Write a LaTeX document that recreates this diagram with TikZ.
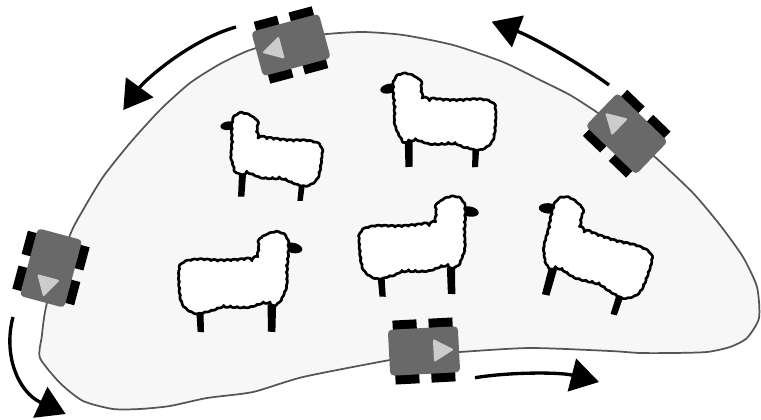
\documentclass[tikz,border=0pt]{standalone}
\usetikzlibrary{arrows.meta,decorations.pathmorphing}
\definecolor{bodygray}{HTML}{696969}
\definecolor{tricolor}{HTML}{CCCCCC}
\definecolor{fieldfill}{HTML}{F7F7F7}
\definecolor{fieldline}{HTML}{555555}
\newcommand{\sheepbody}[1]{%
  \begin{scope}[x=0.25pt,y=-0.25pt]
    \fill[black] (-113,72)--(-92,72)--(-97,140)--(-116,140)--cycle;
    \fill[black] (67,100)--(85,100)--(78,153)--(62,153)--cycle;
    \fill[black,rotate around={8:(-145,-73)}] (-145,-73) ellipse [x radius=24,y radius=13];
    \path[wool,#1] plot[smooth cycle,tension=0.55] coordinates {
      (-108,-106)(-68,-94)(-58,-48)(-28,-36)(30,-28)(90,-26)(124,-15)(132,15)
      (122,78)(92,103)(55,98)(20,85)(-40,81)(-80,68)(-112,68)(-132,30)(-132,-20)(-130,-85)};
  \end{scope}}
\tikzset{
  x=0.75pt,y=-0.75pt,
  wool/.style={draw=black,fill=white,line width=2pt,line join=round,decorate,
    decoration={bumps,segment length=10pt,amplitude=1pt}},
  motion/.style={draw=black,line width=2.5pt,-{Triangle[length=21pt,width=25pt]}},
  field/.style={draw=fieldline,fill=fieldfill,line width=1.3pt,line join=round},
  sheep/.pic={\sheepbody{}},
  sheepflip/.pic={\sheepbody{decoration={mirror}}},
  robot/.pic={
    \fill[black] (-30,-32) rectangle (-6,-20);
    \fill[black] (6,-32) rectangle (30,-20);
    \fill[black] (-30,20) rectangle (-6,32);
    \fill[black] (6,20) rectangle (30,32);
    \fill[bodygray,rounded corners=3pt] (-35,-23) rectangle (35,23);
    \fill[tricolor,draw=tricolor,line width=1.5pt,line join=round] (28,0)--(10.5,-10)--(10.5,10)--cycle;
  }
}
\begin{document}
\begin{tikzpicture}
\useasboundingbox (0,0) rectangle (761,420);
% field
\path[field] plot[smooth cycle,tension=0.4] coordinates {
 (460,352)(425,355)(390,360)(303,377)(253,392)(207,398)(170,406)(140,409)(113,409)(83,401)(60,383)(40,358)(41.7,337)(47,303)
 (70,235)(83,210)(103,177)(130,143)(160,110)(190,83)(220,64)(250,50)(291,39)(327,34)(363,32)(403,35)(453,45)(503,62)(540,80)(570,95)(598,113)
 (628,135)(655,157)(693,193)(720,225)(743,257)(757,287)(759,318)(747,338)(730,347)(707,352)(673,353)(640,353)(610,351)(530,348)};
% sheep
\pic[rotate=0,scale=1] at (276.7,150) {sheep};
\pic[rotate=4,scale=1.12] at (445,112) {sheep};
\pic[rotate=-4,xscale=-1.2,yscale=1.2] at (233,273) {sheepflip};
\pic[rotate=-2,xscale=-1.17,yscale=1.17] at (412,238) {sheepflip};
\pic[rotate=-12,scale=1.2] at (599,249) {sheep};
% robots
\pic[rotate=195] at (291,45) {robot};
\pic[rotate=136] at (626.7,133.7) {robot};
\pic[rotate=-105] at (51,268) {robot};
\pic[rotate=3] at (424,351) {robot};
% motion arrows
\coordinate (a1s) at (236,27);\coordinate (a1e) at (123.3,110);
\coordinate (a2s) at (609,85);\coordinate (a2e) at (491.7,21.7);
\coordinate (a3s) at (13,317);\coordinate (a3e) at (65.7,414);
\coordinate (a4s) at (475,377.7);\coordinate (a4e) at (599,382);
\draw[motion] (a1s) .. controls (190,40) and (145,80) .. (a1e);
\draw[motion] (a2s) .. controls (575,60) and (530,36) .. (a2e);
\draw[motion] (a3s) .. controls (3,355) and (18,392) .. (a3e);
\draw[motion] (a4s) .. controls (510,372) and (560,372) .. (a4e);
\end{tikzpicture}
\end{document}
